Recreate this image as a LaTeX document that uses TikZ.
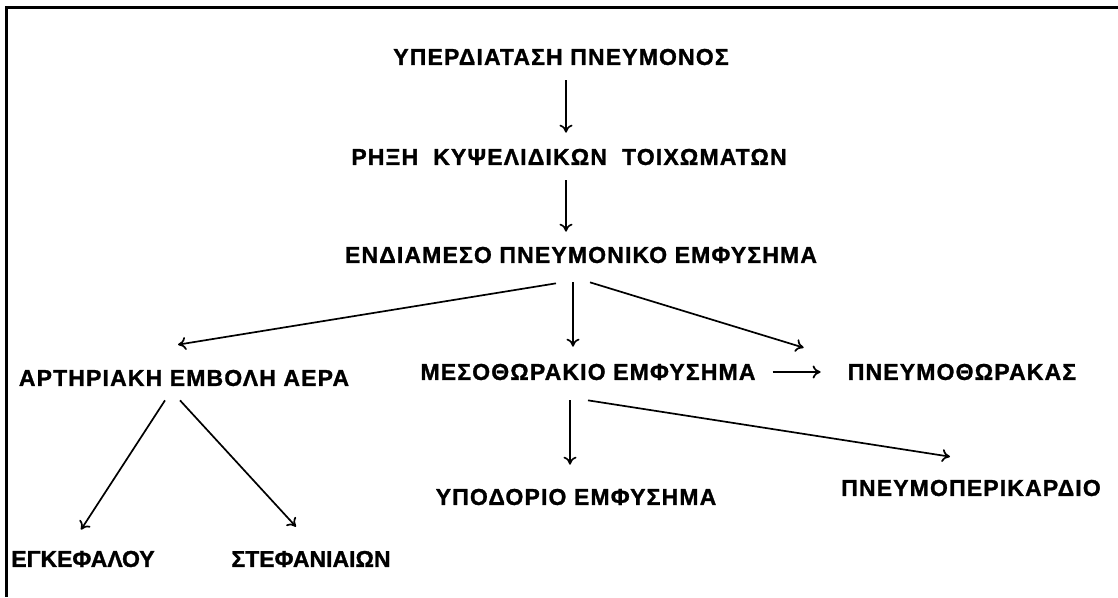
\documentclass[tikz,border=0pt]{standalone}
\usepackage{fontspec}
\setmainfont{Liberation Sans}[LetterSpace=5,BoldFeatures={FakeBold=1.2}]
\usepackage{tikz}
\usetikzlibrary{arrows.meta,positioning}

\tikzset{
  label/.style={font=\fontsize{23}{27}\selectfont\bfseries,inner sep=0pt},
  tight/.style={label,font=\fontsize{23}{27}\selectfont\bfseries\addfontfeature{LetterSpace=0}},
  arr/.style={-{To[length=8pt,width=13pt]},line width=1.7pt}
}

\begin{document}
\begin{tikzpicture}[x=1pt,y=-1pt]
		\useasboundingbox (0,0) rectangle (1118,597);
		\draw[line width=3pt] (1118,7) -- (6,7) -- (6,597);
		% top chain
		\node[label] (hyper) at (561,57) {ΥΠΕΡΔΙΑΤΑΣΗ ΠΝΕΥΜΟΝΟΣ};
		\node[label] (rupt) at (569,157) {ΡΗΞΗ\ \ ΚΥΨΕΛΙΔΙΚΩΝ\ \ ΤΟΙΧΩΜΑΤΩΝ};
		\node[label] (pie) at (581,255) {ΕΝΔΙΑΜΕΣΟ ΠΝΕΥΜΟΝΙΚΟ ΕΜΦΥΣΗΜΑ};
		% middle row
		\node[label] (arterial) at (184,378) {ΑΡΤΗΡΙΑΚΗ ΕΜΒΟΛΗ ΑΕΡΑ};
		\node[label] (mediast) at (588,372) {ΜΕΣΟΘΩΡΑΚΙΟ ΕΜΦΥΣΗΜΑ};
		\node[label] (pneumo) at (962,372) {ΠΝΕΥΜΟΘΩΡΑΚΑΣ};
		% bottom
		\node[label] (subcut) at (576,497) {ΥΠΟΔΟΡΙΟ ΕΜΦΥΣΗΜΑ};
		\node[label] (pericard) at (971,488) {ΠΝΕΥΜΟΠΕΡΙΚΑΡΔΙΟ};
		\node[tight] (brain) at (83,559) {ΕΓΚΕΦΑΛΟΥ};
		\node[tight] (coron) at (311,559) {ΣΤΕΦΑΝΙΑΙΩΝ};
		% arrows
		\draw[arr] ([xshift=5pt,yshift=-15pt]hyper.south) -- ([xshift=-3pt,yshift=16pt]rupt.north);
		\draw[arr] ([xshift=-3pt,yshift=-15pt]rupt.south) -- ([xshift=-15pt,yshift=15pt]pie.north);
		\draw[arr] ([xshift=-25pt,yshift=-20pt]pie.south) -- ([xshift=-6pt,yshift=25pt]arterial.north);
		\draw[arr] ([xshift=-8pt,yshift=-19pt]pie.south) -- ([xshift=-15pt,yshift=17pt]mediast.north);
		\draw[arr] ([xshift=9pt,yshift=-19pt]pie.south) -- ([xshift=-44pt,yshift=16pt]pneumo.north west);
		\draw[arr] ([xshift=17pt]mediast.east) -- ([xshift=-27pt]pneumo.west);
		\draw[arr] ([xshift=-18pt,yshift=-20pt]mediast.south) -- ([xshift=-6pt,yshift=24pt]subcut.north);
		\draw[arr] ([yshift=-20pt]mediast.south) -- ([xshift=-21pt,yshift=23pt]pericard.north);
		\draw[arr] ([xshift=-19pt,yshift=-14pt]arterial.south) -- ([xshift=-2pt,yshift=21pt]brain.north);
		\draw[arr] ([xshift=-4pt,yshift=-14pt]arterial.south) -- ([xshift=-15pt,yshift=24pt]coron.north);
	\end{tikzpicture}
\end{document}
